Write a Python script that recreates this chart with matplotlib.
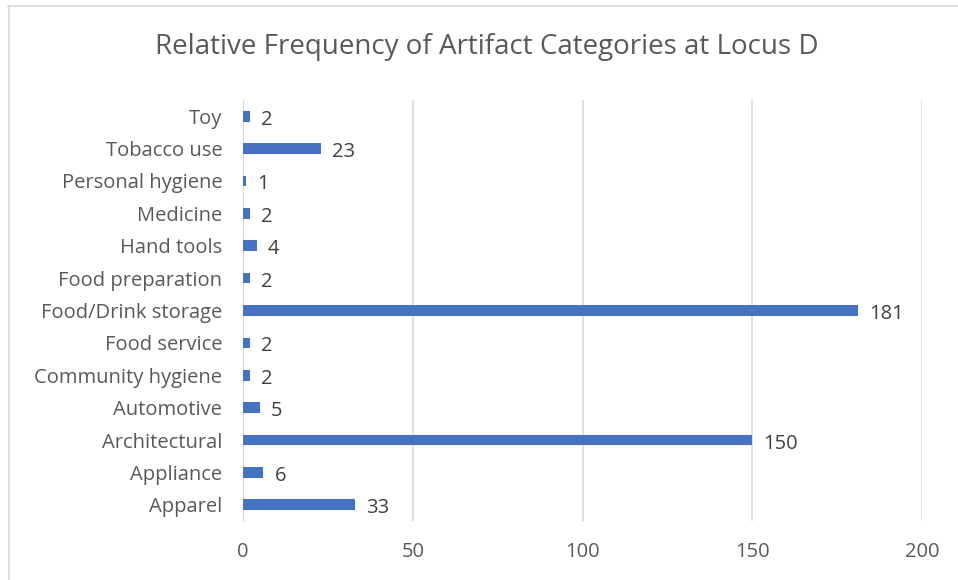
import matplotlib.pyplot as plt
import numpy as np

categories = ['Apparel', 'Appliance', 'Architectural', 'Automotive',
              'Community hygiene', 'Food service', 'Food/Drink storage',
              'Food preparation', 'Hand tools', 'Medicine',
              'Personal hygiene', 'Tobacco use', 'Toy']
counts = [33, 6, 150, 5, 2, 2, 181, 2, 4, 2, 1, 23, 2]
x_ticks = [0, 50, 100, 150, 200]

text_color = '#595959'
bar_color = '#4472C4'
grid_color = '#D9D9D9'

plt.rcParams['font.family'] = ['Open Sans', 'DejaVu Sans']

fig = plt.figure(figsize=(9.58, 5.8), dpi=100)
ax = fig.add_axes([0.2537, 0.1017, 0.7088, 0.7259])

y = np.arange(len(categories))
ax.barh(y, counts, height=0.33, color=bar_color, zorder=3)
# value labels just right of each bar end
for yi, c in zip(y, counts):
    ax.annotate(str(c), (c, yi), xytext=(8, -2.5), textcoords='offset points',
                ha='left', va='center', fontsize=14.5, color='#404040')

ax.set_xlim(0, 200)
ax.set_ylim(-0.5, len(categories) - 0.5)
ax.set_xticks(x_ticks)
ax.set_yticks(y, categories)
ax.tick_params(axis='both', length=0, labelsize=14.5, labelcolor=text_color)
ax.tick_params(axis='x', pad=15)
ax.tick_params(axis='y', pad=15)
ax.xaxis.grid(True, color=grid_color, linewidth=1.2, zorder=0)
for side in ['top', 'right', 'bottom']:
    ax.spines[side].set_visible(False)
ax.spines['left'].set_color(grid_color)

fig.text(0.508, 0.919, 'Relative Frequency of Artifact Categories at Locus D',
         ha='center', va='center', fontsize=20, color=text_color)

# chart frame, top and left edges only
fig.add_artist(plt.Line2D([0.008, 1.0], [0.989, 0.989], transform=fig.transFigure,
                          color='#D9D9D9', linewidth=1.2))
fig.add_artist(plt.Line2D([0.009, 0.009], [0.0, 0.989], transform=fig.transFigure,
                          color='#D9D9D9', linewidth=1.2))

fig.savefig('out.png', dpi=100, facecolor='white')
